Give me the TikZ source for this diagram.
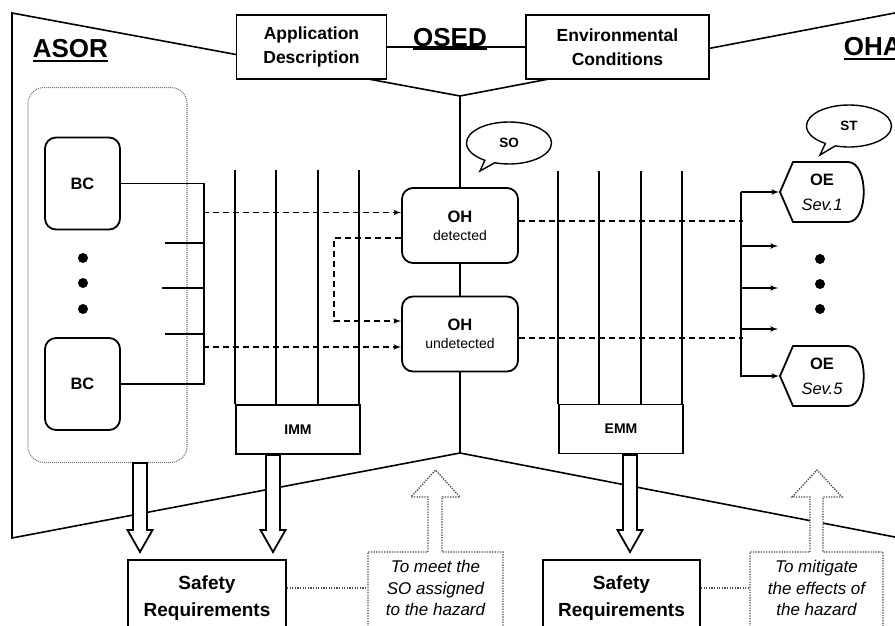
\documentclass[tikz,border=0pt]{standalone}
\usepackage{fontspec}
\setmainfont{Liberation Sans}
\usepackage{tikz}
\usetikzlibrary{arrows,calc,positioning,shapes.callouts}
\tikzstyle{hdr}=[draw,line width=1.8pt,fill=white,align=center,minimum height=64,font=\bfseries\fontsize{17.5}{24}\selectfont]
\tikzstyle{blk}=[draw,line width=1.8pt,fill=white,rounded corners=11pt,align=center,font=\bfseries\fontsize{16.5}{20}\selectfont]
\tikzstyle{mm}=[draw,line width=1.8pt,fill=white,minimum width=124,minimum height=49,font=\bfseries\fontsize{14}{16}\selectfont]
\tikzstyle{bubble}=[ellipse callout,draw,line width=1.4pt,fill=white,minimum width=85,minimum height=42,font=\bfseries\fontsize{13.5}{16}\selectfont]
\tikzstyle{oe}=[align=center,minimum width=84,minimum height=60,inner sep=0pt,font=\fontsize{16.5}{25}\selectfont]
\tikzstyle{srbox}=[draw,line width=1.8pt,fill=white,align=center,minimum height=76,font=\bfseries\fontsize{19}{27}\selectfont]
\tikzstyle{notetxt}=[align=center,inner sep=0pt,font=\itshape\fontsize{17}{21.5}\selectfont]
\tikzstyle{note}=[dash pattern=on 1.3pt off 1.3pt,line width=1.4pt,draw=black!70,fill=white]
\tikzstyle{hollow}=[line width=1.8pt,fill=white]
\tikzstyle{title}=[inner sep=0pt,font=\bfseries\fontsize{26}{30}\selectfont]
\tikzstyle{dsh}=[dash pattern=on 6pt off 4pt]
\newcommand{\titleul}[1]{\setbox0\hbox{#1}\rlap{\rule[-4pt]{\wd0}{2.2pt}}\box0}
% hollow arrow pointing down: x, top, tip
\newcommand{\bigdown}[3]{\draw[hollow] (#1-7,#2) -- (#1+7,#2) -- (#1+7,#3-22) -- (#1+12.5,#3-22) -- (#1,#3) -- (#1-12.5,#3-22) -- (#1-7,#3-22) -- cycle;}

\begin{document}
\begin{tikzpicture}[
            x=1pt,y=-1pt,
            >=latex',
            line width=1.6pt
        ]
        \clip (0,0) rectangle (895,626);
        % bow tie
        \draw (900,12) -- (460,96) -- (12,13) -- (12,538) -- (460,453) -- (900,538);
        \draw (460,96) -- (460,453);
        \node [title,anchor=base west] (asor) at (32,58) {\titleul{ASOR}};
        \node [title,anchor=base] (osed) at (450,46.5) {\titleul{OSED}};
        \node [title,anchor=base west] (oha) at (843,56) {\titleul{OHA}};
        \node [hdr,minimum width=150] (app) at (311.5,47) {Application\\Description};
        \node [hdr,minimum width=183] (env) at (617.5,47) {Environmental\\Conditions};
        \draw (app.east) -- (env.west);
        % left part
        \node [draw=black!55,dash pattern=on 1pt off 1pt,line width=1.1pt,rounded corners=16pt,minimum width=159,minimum height=375] (grp) at (107.5,275) {};
        \node [blk,minimum width=75,minimum height=92] (bc1) at (82.5,183.5) {BC};
        \node [blk,minimum width=75,minimum height=92] (bc2) at (82.5,384) {BC};
        \foreach \y in {258,283,309}
            \fill (83,\y) circle (5pt);
        \draw (bc1.east) -- ++(83,0) |- (bc2.east);
        \foreach \y/\l in {243/165,288/162,334/165}
            \draw (\l,\y) -- (203,\y);
        \node [mm] (imm) at (298,429.5) {IMM};
        \foreach \dx in {0,41,83,124}
            \draw ($(imm.north west)+(\dx,0)$) -- ++(0,-234);
        % hazards
        \node [blk,minimum width=116,minimum height=75] (oh1) at (460,225.5) {OH\\[-2pt]{\mdseries\fontsize{14}{16}\selectfont detected}};
        \node [blk,minimum width=116,minimum height=75] (oh2) at (460,334) {OH\\[-2pt]{\mdseries\fontsize{14}{16}\selectfont undetected}};
        \node [bubble,callout absolute pointer={(480,171)}] (so) at (509,143) {SO};
        \coordinate (b1) at (203,212.5);
        \coordinate (b2) at (203,347);
        \draw [dsh,->] (b1) -- (b1 -| oh1.west);
        \draw [dsh,->] (b2) -- (b2 -| oh2.west);
        \draw [dsh,->] ($(oh1.west)+(0,12.5)$) -| ($(oh2.west)+(-67,-13)$) -- ($(oh2.west)+(0,-13)$);
        % right part
        \node [mm] (emm) at (621,429) {EMM};
        \foreach \dx in {0,41,83,124}
            \draw ($(emm.north west)+(\dx,0)$) -- ++(0,-233);
        \foreach \nm/\cy/\sv in {oe1/192/1,oe2/376/5} {
            \draw [line width=1.8pt,fill=white] (780,\cy) -- (793,\cy-30) -- (848,\cy-30) .. controls (869,\cy-30) and (869,\cy+30) .. (848,\cy+30) -- (793,\cy+30) -- cycle;
            \node [oe] (\nm) at (822,\cy) {{\bfseries OE}\\\textit{Sev.\sv}};
        }
        \node [bubble,callout absolute pointer={(820,155)}] (st) at (849,126) {ST};
        \draw [dsh] ($(oh1.east)+(0,-4.5)$) -- ++(224,0);
        \draw [dsh] ($(oh2.east)+(0,4)$) -- ++(224,0);
        \draw [->] ($(oe1.west)+(-38,0)$) |- (oe2.west);
        \draw [->] ($(oe1.west)+(-38,0)$) -- (oe1.west);
        \foreach \y in {246,288,329}
            \draw [->] (742,\y) -- ++(36,0);
        \foreach \y in {259,284,309}
            \fill (820,\y) circle (5pt);
        % requirements
        \bigdown{140}{463}{552}
        \bigdown{273}{455}{552}
        \bigdown{630}{455}{552}
        \draw [note] (368,640) -- (368,552) -- (428,552) -- (428,497) -- (411,497) -- (435.5,470) -- (460,497) -- (442,497) -- (442,552) -- (503,552) -- (503,640);
        \draw [note] (750,640) -- (750,552) -- (810,552) -- (810,497) -- (792,497) -- (817,470) -- (842,497) -- (823,497) -- (823,552) -- (883,552) -- (883,640);
        \node [notetxt,minimum width=135] (note1) at (435.5,588) {To meet the\\SO assigned\\to the hazard};
        \node [notetxt,minimum width=133] (note2) at (816.5,588) {To mitigate\\the effects of\\the hazard};
        \node [srbox,minimum width=158] (sr1) at (207,598) {Safety\\Requirements};
        \node [srbox,minimum width=157] (sr2) at (621.5,598) {Safety\\Requirements};
        \draw [note] (sr1.east |- note1.west) -- (note1.west);
        \draw [note] (sr2.east |- note2.west) -- (note2.west);
    \end{tikzpicture}
\end{document}
